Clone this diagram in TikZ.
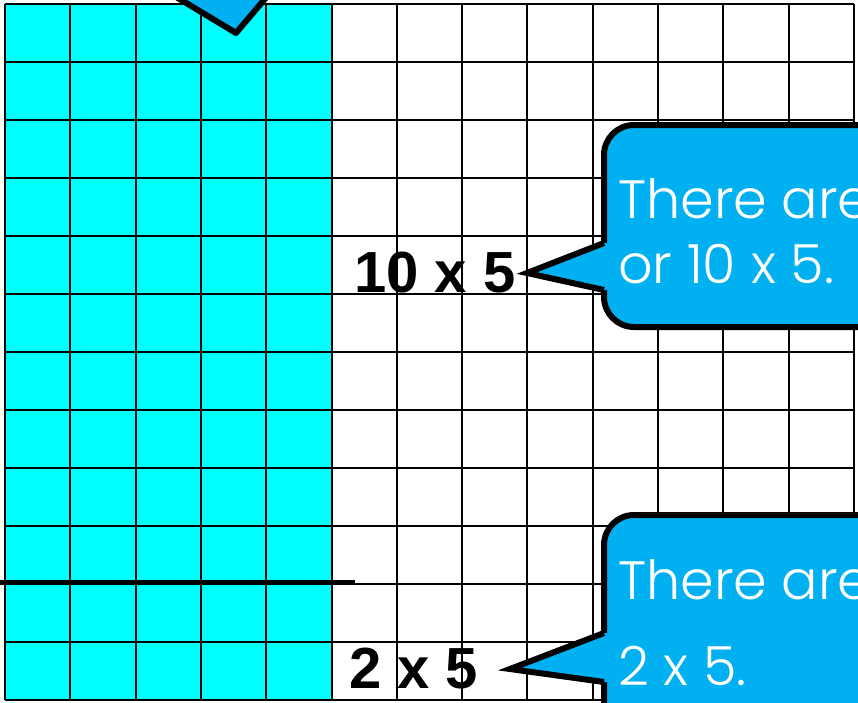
\documentclass[tikz,border=0pt]{standalone}
\usepackage{fontspec}
\setmainfont{Liberation Sans}
\newfontfamily\calloutfont{Poppins Light}
\definecolor{gridcyan}{RGB}{0,255,255}
\definecolor{calloutblue}{RGB}{0,176,240}
\tikzset{
  gridline/.style={line width=2pt,black},
  calloutbox/.style={fill=calloutblue,draw=black,line width=6pt,line join=round},
  callouttext/.style={anchor=base west,inner sep=0pt,text=white,font=\calloutfont\fontsize{54}{65}\selectfont,align=left},
  factlabel/.style={anchor=base west,inner sep=0pt,font=\bfseries\fontsize{58}{58}\selectfont}
}
\begin{document}
\begin{tikzpicture}[x=1pt,y=-1pt]
\useasboundingbox (0,0) rectangle (858,702);
\clip (0,0) rectangle (858,702);
% shaded columns
\fill[gridcyan] (5,4) rectangle (332,700);
% grid
\foreach \i in {0,...,13}
  \draw[gridline] (5+65.3*\i,4) -- (5+65.3*\i,700);
\foreach \j in {0,...,12}
  \draw[gridline] (5,4+58*\j) -- (854,4+58*\j);
% split line
\draw[line width=5pt] (0,582) -- (355,582);
% pointer from the callout above
\filldraw[calloutbox] (148,-20) -- (236,33) -- (281,-20) -- cycle;
% upper callout
\filldraw[calloutbox,rounded corners=30pt] (604,125) rectangle (920,327);
\coordinate (tipA) at (527,273);
\fill[calloutblue] (604,243) -- (tipA) -- (604,290) -- (612,290) -- (612,243) -- cycle;
\draw[line width=6pt,line join=miter] (604,243) -- (tipA) -- (604,290);
\node[callouttext] (textA) at (618,283) {There are\\or 10 x 5.};
\node[factlabel] (tenfive) at (354,292) {10 x 5};
% lower callout
\filldraw[calloutbox,rounded corners=30pt] (604,515) rectangle (920,780);
\coordinate (tipB) at (510,669);
\fill[calloutblue] (604,633) -- (tipB) -- (604,682) -- (612,682) -- (612,633) -- cycle;
\draw[line width=6pt,line join=miter] (604,633) -- (tipB) -- (604,682);
\node[callouttext] (textB) at (618,685) {There are\\[21pt]2 x 5.};
\node[factlabel] (twofive) at (349,688) {2 x 5};
\end{tikzpicture}
\end{document}
